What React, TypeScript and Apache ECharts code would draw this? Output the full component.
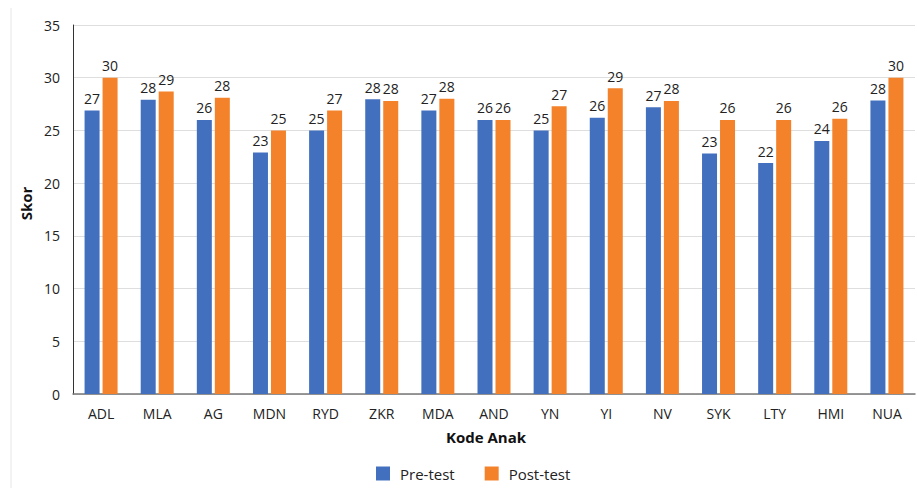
import React, { useEffect, useRef } from "react";
import * as echarts from "echarts";

const categories = ["ADL", "MLA", "AG", "MDN", "RYD", "ZKR", "MDA", "AND", "YN", "YI", "NV", "SYK", "LTY", "HMI", "NUA"];
const preTest = [26.9, 27.9, 26, 22.9, 25, 27.95, 26.9, 26, 25, 26.2, 27.2, 22.8, 21.9, 24, 27.85];
const postTest = [30, 28.7, 28.1, 25, 26.9, 27.8, 28, 26, 27.3, 29, 27.8, 26, 26, 26.1, 30];
const yTicks = { min: 0, max: 35, interval: 5 };

const FONT = "'Open Sans', 'Noto Sans', sans-serif";

export default function App() {
  const ref = useRef<HTMLDivElement>(null);
  useEffect(() => {
    const chart = echarts.init(ref.current!, null, { renderer: "svg" });
    const label = {
      show: true,
      position: "top" as const,
      distance: 5,
      fontSize: 14,
      fontFamily: FONT,
      color: "#222",
      formatter: (p: any) => String(Math.round(p.value)),
    };
    chart.setOption({
      animation: false,
      backgroundColor: "#ffffff",
      textStyle: { fontFamily: FONT },
      grid: { left: 73, right: 2, top: 25, bottom: 94, containLabel: false },
      legend: {
        bottom: 7,
        left: 376,
        padding: 0,
        itemWidth: 14,
        itemHeight: 14,
        itemGap: 30,
        icon: "rect",
        textStyle: { fontSize: 15, color: "#222", fontFamily: FONT, padding: [0, 0, 0, 5] },
        data: ["Pre-test", "Post-test"],
      },
      xAxis: {
        type: "category",
        data: categories,
        name: "Kode Anak",
        nameLocation: "middle",
        nameGap: 35,
        nameTextStyle: { fontSize: 15, fontWeight: "bold", color: "#111", fontFamily: FONT, padding: [0, 16, 0, 0] },
        axisLine: { lineStyle: { color: "#777", width: 1.5 } },
        axisTick: { show: false },
        axisLabel: { fontSize: 14, color: "#222", margin: 12, fontFamily: FONT },
      },
      yAxis: {
        type: "value",
        min: yTicks.min,
        max: yTicks.max,
        interval: yTicks.interval,
        name: "Skor",
        nameLocation: "middle",
        nameGap: 39,
        nameTextStyle: { fontSize: 15, fontWeight: "bold", color: "#111", fontFamily: FONT, padding: [0, 0, 0, 12] },
        axisLine: { show: true, lineStyle: { color: "#333", width: 1 } },
        axisTick: { show: false },
        axisLabel: { fontSize: 14, color: "#222", margin: 13, fontFamily: FONT },
        splitLine: { lineStyle: { color: "#dedede", width: 1 } },
      },
      graphic: [
        {
          type: "line",
          shape: { x1: 11, y1: 8, x2: 11, y2: 488 },
          style: { stroke: "#e6e6e6", lineWidth: 1 },
          silent: true,
        },
      ],
      series: [
        {
          name: "Pre-test",
          type: "bar",
          data: preTest,
          barWidth: 15,
          barGap: "20%",
          itemStyle: { color: "#4270bf" },
          label,
        },
        {
          name: "Post-test",
          type: "bar",
          data: postTest,
          barWidth: 15,
          itemStyle: { color: "#f3822a" },
          label,
        },
      ],
    });
    return () => chart.dispose();
  }, []);
  return (
    <div
      ref={ref}
      style={{ position: "fixed", left: 0, top: 0, width: 917, height: 488 }}
    />
  );
}
